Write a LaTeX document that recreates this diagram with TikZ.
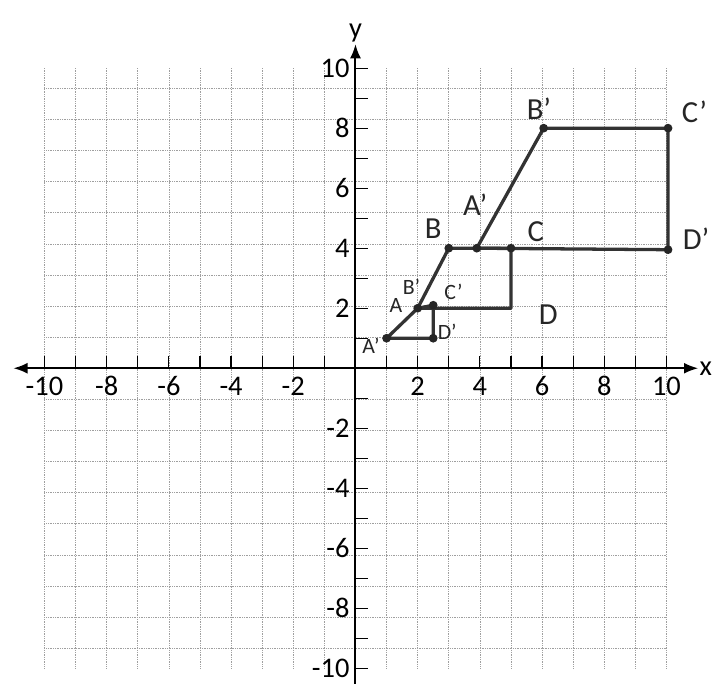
\documentclass[tikz,border=0pt]{standalone}
\usepackage{fontspec}
\setmainfont{Carlito}
\usetikzlibrary{arrows.meta}

\begin{document}
\begin{tikzpicture}[x=1cm, y=0.965cm, >={Latex[length=13pt,width=10pt]}, line join=round,
    gridline/.style={densely dotted, gray!75, line width=0.6pt},
    axisline/.style={line width=1.8pt, black},
    tickline/.style={line width=1.1pt, black},
    numlabel/.style={font=\fontsize{26}{26}\selectfont, inner sep=1pt},
    sketch/.style={line width=3pt, black!80, line cap=round},
    vertexdot/.style={circle, fill=black!85, inner sep=0pt, minimum size=8pt},
    hand/.style={font=\fontsize{28}{28}\selectfont, black!85, inner sep=0pt},
    handsmall/.style={font=\fontsize{20}{20}\selectfont, black!85, inner sep=0pt}]
    \useasboundingbox (-11.43,-10.5) rectangle (11.56,12.27);
    % grid and axes
    \draw[gridline] (-10,-10) grid (10,10);
    \draw[axisline, <->] (-11,0) -- (11.02,0) node[right, numlabel, inner sep=0.5pt] (xname) {x};
    \draw[axisline, ->] (0,-10.7) -- (0,10.8) node[above, numlabel] (yname) {y};
    \foreach \i in {-10,...,10} {
        \draw[tickline] (\i,0) -- (\i,0.4);
        \draw[tickline] (0,\i) -- (0.4,\i);
    }
    \foreach \i in {-10,-8,-6,-4,-2,2,4,6,8,10} {
        \node[numlabel] (xl\i) at (\i,-0.6) {\i};
        \node[numlabel, anchor=east] (yl\i) at (-0.15,\i) {\i};
    }
    % figure ABCD
    \coordinate (A) at (2,2);
    \coordinate (B) at (3,4);
    \coordinate (C) at (5,4);
    \coordinate (D) at (5,2);
    % image with factor 2
    \coordinate (Abig) at (3.9,4);
    \coordinate (Bbig) at (6.05,8);
    \coordinate (Cbig) at (10.05,8);
    \coordinate (Dbig) at (10.05,3.95);
    % image with factor 1/2
    \coordinate (Asmall) at (1,1);
    \coordinate (Bsmall) at (2,2);
    \coordinate (Csmall) at (2.5,2.1);
    \coordinate (Dsmall) at (2.5,1);
    \draw[sketch] (A) -- (B) -- (C) -- (D) -- cycle;
    \draw[sketch] (Abig) -- (Bbig) -- (Cbig) -- (Dbig) -- cycle;
    \draw[sketch] (Asmall) -- (Bsmall) -- (Csmall) -- (Dsmall) -- cycle;
    \foreach \p in {B,C,Abig,Bbig,Cbig,Dbig,Asmall,Bsmall,Csmall,Dsmall}
        \node[vertexdot] (dot\p) at (\p) {};
    % hand-written letters
    \node[hand] (lB) at (2.5,4.65) {B};
    \node[hand] (lC) at (5.8,4.55) {C};
    \node[hand] (lD) at (6.2,1.8) {D};
    \node[hand] (lAbig) at (3.85,5.45) {A'};
    \node[hand] (lBbig) at (5.9,8.65) {B'};
    \node[hand] (lCbig) at (10.9,8.55) {C'};
    \node[hand] (lDbig) at (10.95,4.3) {D'};
    \node[handsmall] (lAsmall) at (0.5,0.75) {A'};
    \node[handsmall] (lA) at (1.3,2.1) {A};
    \node[handsmall] (lBsmall) at (1.8,2.7) {B'};
    \node[handsmall] (lCsmall) at (3.15,2.55) {C'};
    \node[handsmall] (lDsmall) at (2.95,1.2) {D'};
\end{tikzpicture}
\end{document}
